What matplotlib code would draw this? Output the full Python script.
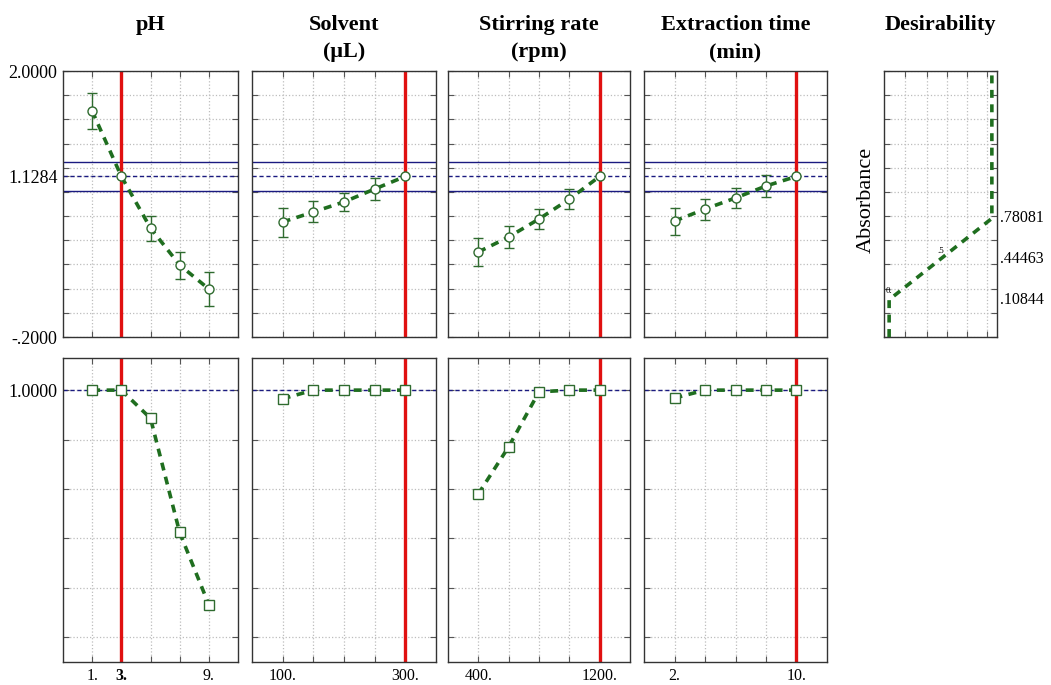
import matplotlib
matplotlib.use("Agg")
import matplotlib.pyplot as plt
import numpy as np

plt.rcParams['font.family'] = ['Liberation Serif', 'DejaVu Serif']

# factor levels and predicted absorbance (top row), desirability (bottom row)
ph_levels = [1, 3, 5, 7, 9]
ph_abs = [1.669, 1.1284, 0.701, 0.395, 0.197]
ph_err = [0.145, 0.0, 0.103, 0.112, 0.141]
ph_desir = [1.0, 1.0, 0.886, 0.424, 0.132]

solvent_levels = [100, 150, 200, 250, 300]
solvent_abs = [0.751, 0.834, 0.917, 1.024, 1.1284]
solvent_err = [0.12, 0.087, 0.075, 0.088, 0.0]
solvent_desir = [0.965, 1.0, 1.0, 1.0, 1.0]

stirring_levels = [400, 600, 800, 1000, 1200]
stirring_abs = [0.503, 0.627, 0.776, 0.940, 1.1284]
stirring_err = [0.115, 0.087, 0.079, 0.083, 0.0]
stirring_desir = [0.580, 0.771, 0.993, 1.0, 1.0]

time_levels = [2, 4, 6, 8, 10]
time_abs = [0.759, 0.858, 0.950, 1.049, 1.1284]
time_err = [0.112, 0.087, 0.079, 0.090, 0.0]
time_desir = [0.968, 1.0, 1.0, 1.0, 1.0]

titles = ["pH", "Solvent\n(\u03bcL)", "Stirring rate\n(rpm)", "Extraction time\n(min)"]
current = [3, 300, 1200, 10]
x_labels = [["1.", "3.", "", "", "9."],
            ["100.", "", "", "", "300."],
            ["400.", "", "", "", "1200."],
            ["2.", "", "", "", "10."]]

pred_value = 1.1284
pred_lo, pred_hi = 1.007, 1.245

desir_abs = [-0.2, 0.10844, 0.78081, 2.0]
desir_val = [0.0, 0.0, 1.0, 1.0]
desir_marks = [0.10844, 0.44463, 0.78081]
desir_mark_text = [".10844", ".44463", ".78081"]

levels = [ph_levels, solvent_levels, stirring_levels, time_levels]
absorb = [ph_abs, solvent_abs, stirring_abs, time_abs]
errs = [ph_err, solvent_err, stirring_err, time_err]
desir = [ph_desir, solvent_desir, stirring_desir, time_desir]
xlims = [(-1, 11), (50, 350), (200, 1400), (0, 12)]

W, H = 1051, 685
fig = plt.figure(figsize=(W / 100, H / 100), dpi=100)


def box(x0, y0, x1, y1):
    return [x0 / W, 1 - y1 / H, (x1 - x0) / W, (y1 - y0) / H]


GREEN = '#1f6e1f'
MARK = '#2f6b2f'
RED = '#e01010'
NAVY = '#1a1a80'


def style(ax):
    ax.grid(True, color='#bdbdbd', linestyle=':', linewidth=0.9)
    ax.set_axisbelow(True)
    ax.tick_params(direction='in', length=4, width=0.8, top=True, right=True,
                   color='#555555', labelsize=11.5, pad=4)
    for s in ax.spines.values():
        s.set_linewidth(1.0)
        s.set_color('#333333')


cols = [(63, 238), (252, 436), (448, 630), (644, 827)]
top_grid = list(np.round(np.arange(-0.2, 2.01, 0.2), 4))
bot_grid = list(np.round(np.arange(0.0, 1.01, 0.2), 4))

for i in range(4):
    x0, x1 = cols[i]
    at = fig.add_axes(box(x0, 71, x1, 337))
    ab = fig.add_axes(box(x0, 358, x1, 662))

    # top: predicted absorbance
    at.axhline(pred_hi, color=NAVY, lw=1.0, zorder=2)
    at.axhline(pred_lo, color=NAVY, lw=1.0, zorder=2)
    at.axhline(pred_value, color=NAVY, lw=1.0, ls=(0, (3, 2)), zorder=2)
    at.axvline(current[i], color=RED, lw=2.4, zorder=2)
    at.plot(levels[i], absorb[i], color=GREEN, lw=2.6, dashes=(2.2, 1.8), zorder=3)
    e = np.array(errs[i])
    m = e > 0
    at.errorbar(np.array(levels[i])[m], np.array(absorb[i])[m], yerr=e[m], fmt='none',
                ecolor=MARK, elinewidth=1.0, capsize=3.6, capthick=1.0, zorder=4)
    at.plot(levels[i], absorb[i], 'o', ms=6.5, mfc='white', mec=MARK, mew=1.0, zorder=5)
    at.set_xlim(xlims[i])
    at.set_ylim(-0.2, 2.0)
    at.set_xticks(levels[i])
    at.set_xticklabels([])
    style(at)

    # bottom: desirability
    ab.axhline(1.0, color=NAVY, lw=1.0, ls=(0, (3, 2)), zorder=2)
    ab.axvline(current[i], color=RED, lw=2.4, zorder=2)
    ab.plot(levels[i], desir[i], color=GREEN, lw=2.6, dashes=(2.2, 1.8), zorder=3)
    ab.plot(levels[i], desir[i], 's', ms=6.5, mfc='white', mec=MARK, mew=1.0, zorder=5)
    ab.set_xlim(xlims[i])
    ab.set_ylim(-0.1, 1.13)
    ab.set_xticks(levels[i])
    ab.set_xticklabels(x_labels[i])
    style(ab)

    if i == 0:
        at.set_yticks(top_grid + [pred_value])
        at.set_yticklabels(["-.2000" if v == -0.2 else ("2.0000" if v == 2.0 else "")
                            for v in top_grid] + ["1.1284"], fontsize=13)
        ab.set_yticks(bot_grid)
        ab.set_yticklabels(["1.0000" if v == 1.0 else "" for v in bot_grid], fontsize=13)
        ab.get_xticklabels()[1].set_fontweight('bold')
    else:
        at.set_yticks(top_grid)
        at.set_yticklabels([])
        ab.set_yticks(bot_grid)
        ab.set_yticklabels([])

    cx = (x0 + x1) / 2 / W
    lines = titles[i].split("\n")
    fig.text(cx, 1 - 25 / H, lines[0], ha='center', va='center',
             fontsize=16, fontweight='bold')
    if len(lines) > 1:
        fig.text(cx, 1 - 52 / H, lines[1], ha='center', va='center',
                 fontsize=16, fontweight='bold')

# desirability profile for absorbance
ad = fig.add_axes(box(884, 71, 997, 337))
ad.plot(desir_val, desir_abs, color=GREEN, lw=2.6, dashes=(2.2, 1.8), zorder=3)
ad.set_xlim(-0.05, 1.05)
ad.set_ylim(-0.2, 2.0)
ad.set_xticks([0.15, 0.37, 0.56, 0.76, 0.95])
ad.set_xticklabels([])
ad.set_yticks(top_grid)
ad.set_yticklabels([])
style(ad)
for v, t in zip(desir_marks, desir_mark_text):
    ad.text(1.03, v, t, transform=ad.get_yaxis_transform(), ha='left', va='center',
            fontsize=11.5)
ad.text(0.0, desir_marks[0] + 0.04, "0.", ha='center', va='bottom', fontsize=6.5, zorder=6)
ad.text(0.5, desir_marks[1] + 0.03, ".5", ha='center', va='bottom', fontsize=6.5, zorder=6)

fig.text(940.5 / W, 1 - 25 / H, "Desirability", ha='center', va='center',
         fontsize=16, fontweight='bold')
fig.text(866 / W, 1 - 200 / H, "Absorbance", ha='center', va='center',
         rotation=90, fontsize=16)

fig.savefig("out.png", dpi=100)
